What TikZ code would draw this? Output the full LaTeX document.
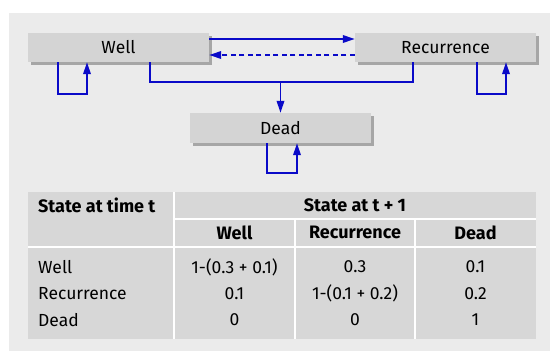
\documentclass[tikz,border=0pt]{standalone}
\usepackage{fontspec}
\setmainfont{Fira Sans}
\usetikzlibrary{arrows.meta,shadows}
\definecolor{bgcol}{HTML}{EBEBEB}
\definecolor{boxcol}{HTML}{D4D4D4}
\definecolor{shadowcol}{HTML}{A6A6A6}
\definecolor{cellcol}{HTML}{D7D7D7}
\definecolor{linecol}{HTML}{0A0AC8}
\tikzset{
  statebox/.style={draw=none, fill=boxcol, minimum width=181pt, minimum height=29pt, inner sep=0pt,
    font=\fontsize{17.5}{20}\selectfont,
    drop shadow={shadow xshift=3pt, shadow yshift=-3pt, fill=shadowcol, opacity=1}},
  conn/.style={draw=linecol, line width=1.8pt, -{Triangle[length=12pt,width=7.5pt]}},
  plain/.style={draw=linecol, line width=1.8pt},
  txt/.style={inner sep=0pt, font=\fontsize{17.5}{20}\selectfont},
  hdr/.style={inner sep=0pt, font=\fontsize{18}{20}\selectfont\bfseries},
  sep/.style={draw=white, line width=2pt},
}
\begin{document}
\begin{tikzpicture}[x=1pt,y=-1pt]
\useasboundingbox (0,0) rectangle (550,351);
\fill[bgcol] (9,13) rectangle (550,351);
% state boxes
\node[statebox] (well) at (118.5,47.5) {Well};
\node[statebox] (rec) at (445.5,47.5) {Recurrence};
\node[statebox, minimum height=30pt] (dead) at (280.5,128) {Dead};
% transitions between well and recurrence
\draw[conn] ([yshift=8.5pt]well.east) -- ([yshift=8.5pt]rec.west);
\draw[conn, dashed, dash pattern=on 5pt off 3.5pt] ([yshift=-7.5pt]rec.west) -- ([yshift=-7.5pt]well.east);
% self loops
\coordinate (wl) at ([xshift=-60.5pt,yshift=-32pt]well.south);
\draw[conn] ([xshift=-60.5pt]well.south) -- (wl) -| ([xshift=-31.5pt]well.south);
\coordinate (rl) at ([xshift=31.5pt,yshift=-32pt]rec.south);
\draw[conn] ([xshift=31.5pt]rec.south) -- (rl) -| ([xshift=60.5pt]rec.south);
\coordinate (dl) at ([xshift=-13.5pt,yshift=-30pt]dead.south);
\draw[conn] ([xshift=-13.5pt]dead.south) -- (dl) -| ([xshift=16.5pt]dead.south);
% to dead
\coordinate (j) at ([yshift=31pt]dead.north);
\draw[plain] ([xshift=31.5pt]well.south) |- (j);
\draw[plain] ([xshift=-32.5pt]rec.south) |- (j);
\draw[conn] (j) -- (dead.north);
% table
\fill[cellcol] (28,192) rectangle (536,339);
\draw[sep] (174,192) -- (174,339);
\draw[sep] (174,219) -- (536,219);
\draw[sep] (28,246.5) -- (536,246.5);
\draw[sep] (295,219) -- (295,339);
\draw[sep] (415,219) -- (415,339);
\node[hdr, anchor=west] (h0) at (38,205) {State at time t};
\node[hdr] (h1) at (355,205) {State at t + 1};
\node[hdr] (h2) at (234.5,232.5) {Well};
\node[hdr] (h3) at (355,232.5) {Recurrence};
\node[hdr] (h4) at (475.5,232.5) {Dead};
\node[txt, anchor=west] (r1) at (38,267) {Well};
\node[txt, anchor=west] (r2) at (38,293.5) {Recurrence};
\node[txt, anchor=west] (r3) at (38,320) {Dead};
\node[txt] (c11) at (234.5,267) {1-(0.3 + 0.1)};
\node[txt] (c12) at (355,267) {0.3};
\node[txt] (c13) at (475.5,267) {0.1};
\node[txt] (c21) at (234.5,293.5) {0.1};
\node[txt] (c22) at (355,293.5) {1-(0.1 + 0.2)};
\node[txt] (c23) at (475.5,293.5) {0.2};
\node[txt] (c31) at (234.5,320) {0};
\node[txt] (c32) at (355,320) {0};
\node[txt] (c33) at (475.5,320) {1};
\end{tikzpicture}
\end{document}
